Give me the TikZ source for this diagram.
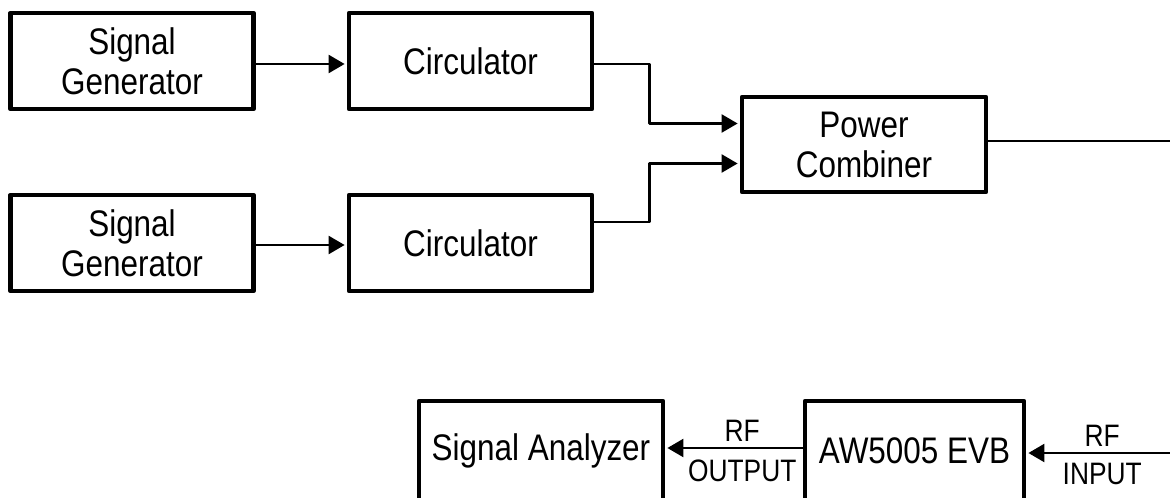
\documentclass[tikz,border=0pt]{standalone}
\usepackage{fontspec}
\setmainfont{Liberation Sans}[FakeStretch=0.85]
\usetikzlibrary{arrows.meta}
\begin{document}
\begin{tikzpicture}[x=0.5pt, y=-0.5pt, line join=round,
  blk/.style={draw, line width=2.4pt, minimum width=121.5pt, minimum height=48pt, align=center, inner sep=0pt, font=\fontsize{18.5}{20}\selectfont},
  wire/.style={line width=1.2pt},
  feed/.style={wire, -{Triangle[length=8pt,width=9pt]}, shorten >=1pt},
  tag/.style={inner sep=0pt, font=\fontsize{15.5}{17}\selectfont}]
  \useasboundingbox (0,0) rectangle (1170,497);
  \clip (0,0) rectangle (1170,497);
  \node[blk] (genA) at (132,61) {Signal\\Generator};
  \node[blk] (circA) at (470.5,61) {Circulator};
  \node[blk] (genB) at (132,243) {Signal\\Generator};
  \node[blk] (circB) at (470.5,243) {Circulator};
  \node[blk, minimum width=122pt, minimum height=47.5pt] (comb) at (864,144.5) {Power\\Combiner};
  \node[blk, minimum width=122pt, minimum height=50pt] (ana) at (541,451) {Signal Analyzer};
  \node[blk, minimum width=109.5pt, minimum height=50pt] (evb) at (914.5,451) {AW5005 EVB};
  \coordinate (sink) at (1180,141);
  \coordinate (src) at (1178,453);
  \draw[feed] ([yshift=-1.5pt]genA.east) -- ([yshift=-1.5pt]circA.west);
  \draw[feed] ([yshift=-1pt]genB.east) -- ([yshift=-1pt]circB.west);
  \draw[feed] ([yshift=-1.5pt]circA.east) -- ++(55,0) |- ([yshift=10.5pt]comb.west);
  \draw[feed] ([yshift=10.5pt]circB.east) -- ++(55,0) |- ([yshift=-9.5pt]comb.west);
  \draw[wire] (comb.east |- sink) -- (sink);
  \draw[feed] (src) -- node[tag, above=2.5pt] (rfIn) {RF} node[tag, below=4.5pt] (inTag) {INPUT} (evb.east |- src);
  \draw[feed] ([yshift=1.5pt]evb.west) -- node[tag, pos=0.44, above=2.5pt] (rfOut) {RF} node[tag, pos=0.44, below=5.5pt] (outTag) {OUTPUT} ([yshift=1.5pt]ana.east);
\end{tikzpicture}
\end{document}
